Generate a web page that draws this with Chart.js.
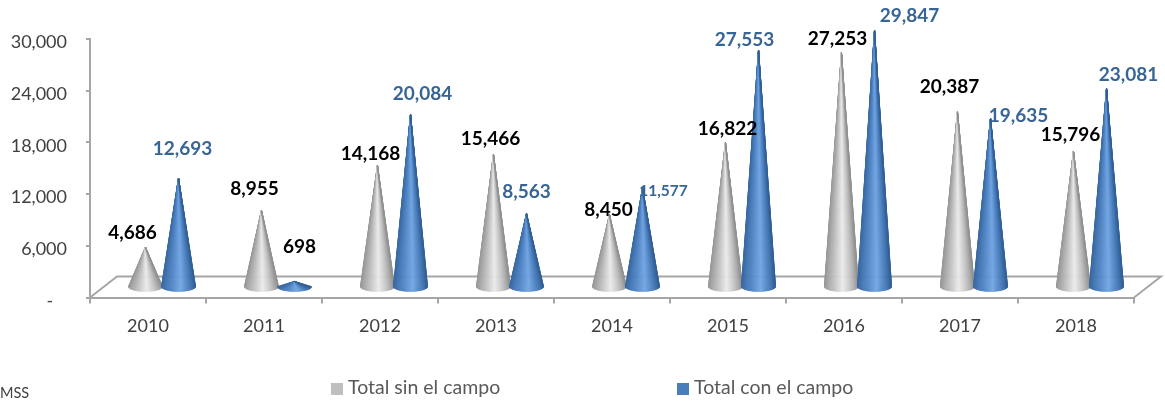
<!DOCTYPE html>
<html>
<head>
<meta charset="utf-8">
<title>Total sin el campo / con el campo</title>
<script src="https://cdn.jsdelivr.net/npm/chart.js@4/dist/chart.umd.min.js"></script>
<style>
    html, body { margin: 0; padding: 0; background: #fff; overflow: hidden; }
    canvas { display: block; }
</style>
</head>
<body>
<canvas id="coneChart" width="1165" height="402"></canvas>
<script>
// Chart data
const years = ['2010', '2011', '2012', '2013', '2014', '2015', '2016', '2017', '2018'];
const sinCampo = [4686, 8955, 14168, 15466, 8450, 16822, 27253, 20387, 15796];
const conCampo = [12693, 698, 20084, 8563, 11577, 27553, 29847, 19635, 23081];

// Hand-moved value labels: shift from the cone tip, then font size
const sinLabelShift = [[-13, -24], [-7, -31], [-7, -22], [-3, -25], [-1, -15], [2, -24], [-4, -24], [-8, -35], [-3, -27]];
const conLabelShift = [[4, -39], [5, -45], [12, -31], [0, -32], [21, -7], [-14, -20], [35, -24], [28, -12], [22, -24]];
const conLabelSize = [19, 19, 19, 19, 15.5, 19, 19, 19, 19];

const GREY = '#bfbfbf';
const BLUE = '#4a7ebb';
const AXIS = '#a6a6a6';
const FONT = 'Lato, Carlito, sans-serif';

// Fake 3D depth of the floor and of the cones sitting on it
const floorDepth = { x: 27, y: 21 };
const coneDepth = { x: 14, y: 10 };

// Colour across the cone, left edge to right edge
const coneShades = {
    [GREY]: [[0, [150, 150, 150]], [0.3, [196, 196, 196]], [0.55, [234, 234, 234]], [0.8, [192, 192, 192]], [1, [145, 145, 145]]],
    [BLUE]: [[0, [56, 104, 160]], [0.3, [82, 134, 198]], [0.58, [112, 164, 226]], [0.82, [74, 126, 188]], [1, [50, 96, 150]]]
};

function shadeAt(stops, t) {
    for (let i = 1; i < stops.length; i++) {
        if (t <= stops[i][0]) {
            const [t0, c0] = stops[i - 1];
            const [t1, c1] = stops[i];
            const k = (t - t0) / (t1 - t0);
            const c = c0.map((v, n) => Math.round(v + (c1[n] - v) * k));
            return `rgb(${c[0]},${c[1]},${c[2]})`;
        }
    }
    return 'rgb(0,0,0)';
}

// Bars are drawn as cones: a fan of slices from the tip round the front of the base
Chart.BarElement.prototype.draw = function (ctx) {
    const stops = coneShades[this.options.backgroundColor];
    const cx = this.x + coneDepth.x;
    const tipY = this.y - coneDepth.y;
    const baseY = this.base - coneDepth.y;
    const rx = this.width / 2 + 0.5;
    const ry = 5;
    const slices = 48;

    ctx.save();
    ctx.lineWidth = 0.6;
    for (let i = 0; i < slices; i++) {
        const a0 = Math.PI - (Math.PI * i) / slices;
        const a1 = Math.PI - (Math.PI * (i + 1)) / slices;
        const color = shadeAt(stops, (Math.cos((a0 + a1) / 2) + 1) / 2);
        ctx.fillStyle = color;
        ctx.strokeStyle = color;
        ctx.beginPath();
        ctx.moveTo(cx, tipY);
        ctx.lineTo(cx + rx * Math.cos(a0), baseY + ry * Math.sin(a0));
        ctx.lineTo(cx + rx * Math.cos(a1), baseY + ry * Math.sin(a1));
        ctx.closePath();
        ctx.fill();
        ctx.stroke();
    }
    ctx.restore();
};

// Floor outline behind the cones
const floorPlugin = {
    id: 'floor',
    beforeDatasetsDraw(chart) {
        const { left, right, bottom } = chart.chartArea;
        const ctx = chart.ctx;
        ctx.save();
        ctx.strokeStyle = AXIS;
        ctx.lineWidth = 2;
        ctx.beginPath();
        ctx.moveTo(left, bottom);
        ctx.lineTo(left + floorDepth.x, bottom - floorDepth.y);
        ctx.lineTo(right + floorDepth.x, bottom - floorDepth.y);
        ctx.lineTo(right, bottom);
        ctx.stroke();
        ctx.restore();
    },
    // Blue goes over grey, but swapping the dataset order would swap the sides too
    beforeDatasetDraw(chart, args) {
        if (args.index === 1) return false;
    },
    afterDatasetsDraw(chart) {
        chart.getDatasetMeta(1).controller.draw();
    }
};

// Value labels
const valueLabelPlugin = {
    id: 'valueLabels',
    afterDraw(chart) {
        const ctx = chart.ctx;
        ctx.save();
        ctx.textAlign = 'center';
        ctx.textBaseline = 'middle';
        chart.getDatasetMeta(0).data.forEach((bar, i) => {
            ctx.font = `bold 19px ${FONT}`;
            ctx.fillStyle = '#000';
            ctx.fillText(sinCampo[i].toLocaleString('en-US'),
                bar.x + coneDepth.x + sinLabelShift[i][0], bar.y + sinLabelShift[i][1]);
        });
        chart.getDatasetMeta(1).data.forEach((bar, i) => {
            // 698 is the one black label of the blue series
            ctx.font = `bold ${conLabelSize[i]}px ${FONT}`;
            ctx.fillStyle = conCampo[i] < 1000 ? '#000' : '#376596';
            ctx.fillText(conCampo[i].toLocaleString('en-US'),
                bar.x + coneDepth.x + conLabelShift[i][0], bar.y + conLabelShift[i][1]);
        });
        ctx.restore();
    }
};

// Legend and source note sit apart from each other, the built-in legend can't space them
const legendPlugin = {
    id: 'bottomLegend',
    afterDraw(chart) {
        const ctx = chart.ctx;
        const slots = [331, 677];
        ctx.save();
        ctx.textBaseline = 'middle';
        ctx.textAlign = 'left';
        chart.data.datasets.forEach((ds, i) => {
            ctx.fillStyle = ds.backgroundColor;
            ctx.fillRect(slots[i], 383, 12, 12);
            ctx.font = `19.5px ${FONT}`;
            ctx.fillStyle = '#595959';
            ctx.fillText(ds.label, slots[i] + 17, 388);
        });
        ctx.font = `14.5px ${FONT}`;
        ctx.fillStyle = '#404040';
        ctx.fillText('MSS', 0, 393);
        ctx.restore();
    }
};

new Chart(document.getElementById('coneChart').getContext('2d'), {
    type: 'bar',
    data: {
        labels: years,
        datasets: [
            { label: 'Total sin el campo', data: sinCampo, backgroundColor: GREY, clip: false },
            { label: 'Total con el campo', data: conCampo, backgroundColor: BLUE, clip: false }
        ]
    },
    options: {
        responsive: false,
        animation: false,
        layout: { padding: { top: 39, right: 31, bottom: 0, left: 0 } },
        datasets: { bar: { categoryPercentage: 0.57, barPercentage: 1 } },
        plugins: {
            legend: { display: false },
            tooltip: { enabled: false }
        },
        scales: {
            x: {
                afterFit(scale) { scale.height = 104.5; },
                grid: { drawOnChartArea: false, color: AXIS, lineWidth: 2, tickLength: 6 },
                border: { color: AXIS, width: 2 },
                ticks: { color: '#404040', font: { family: FONT, size: 18 }, padding: 12, maxRotation: 0 }
            },
            y: {
                min: 0,
                max: 30000,
                afterFit(scale) { scale.width = 90; },
                grid: { drawOnChartArea: false, color: AXIS, lineWidth: 2, tickLength: 4 },
                border: { color: AXIS, width: 2 },
                ticks: {
                    stepSize: 6000,
                    color: '#404040',
                    // the blank first line with a short line height drops the labels below their tick marks
                    font: { family: FONT, size: 18, lineHeight: '7px' },
                    padding: 19,
                    callback: v => ['', v === 0 ? '-   ' : v.toLocaleString('en-US')]
                }
            }
        }
    },
    plugins: [floorPlugin, valueLabelPlugin, legendPlugin]
});
</script>
</body>
</html>
